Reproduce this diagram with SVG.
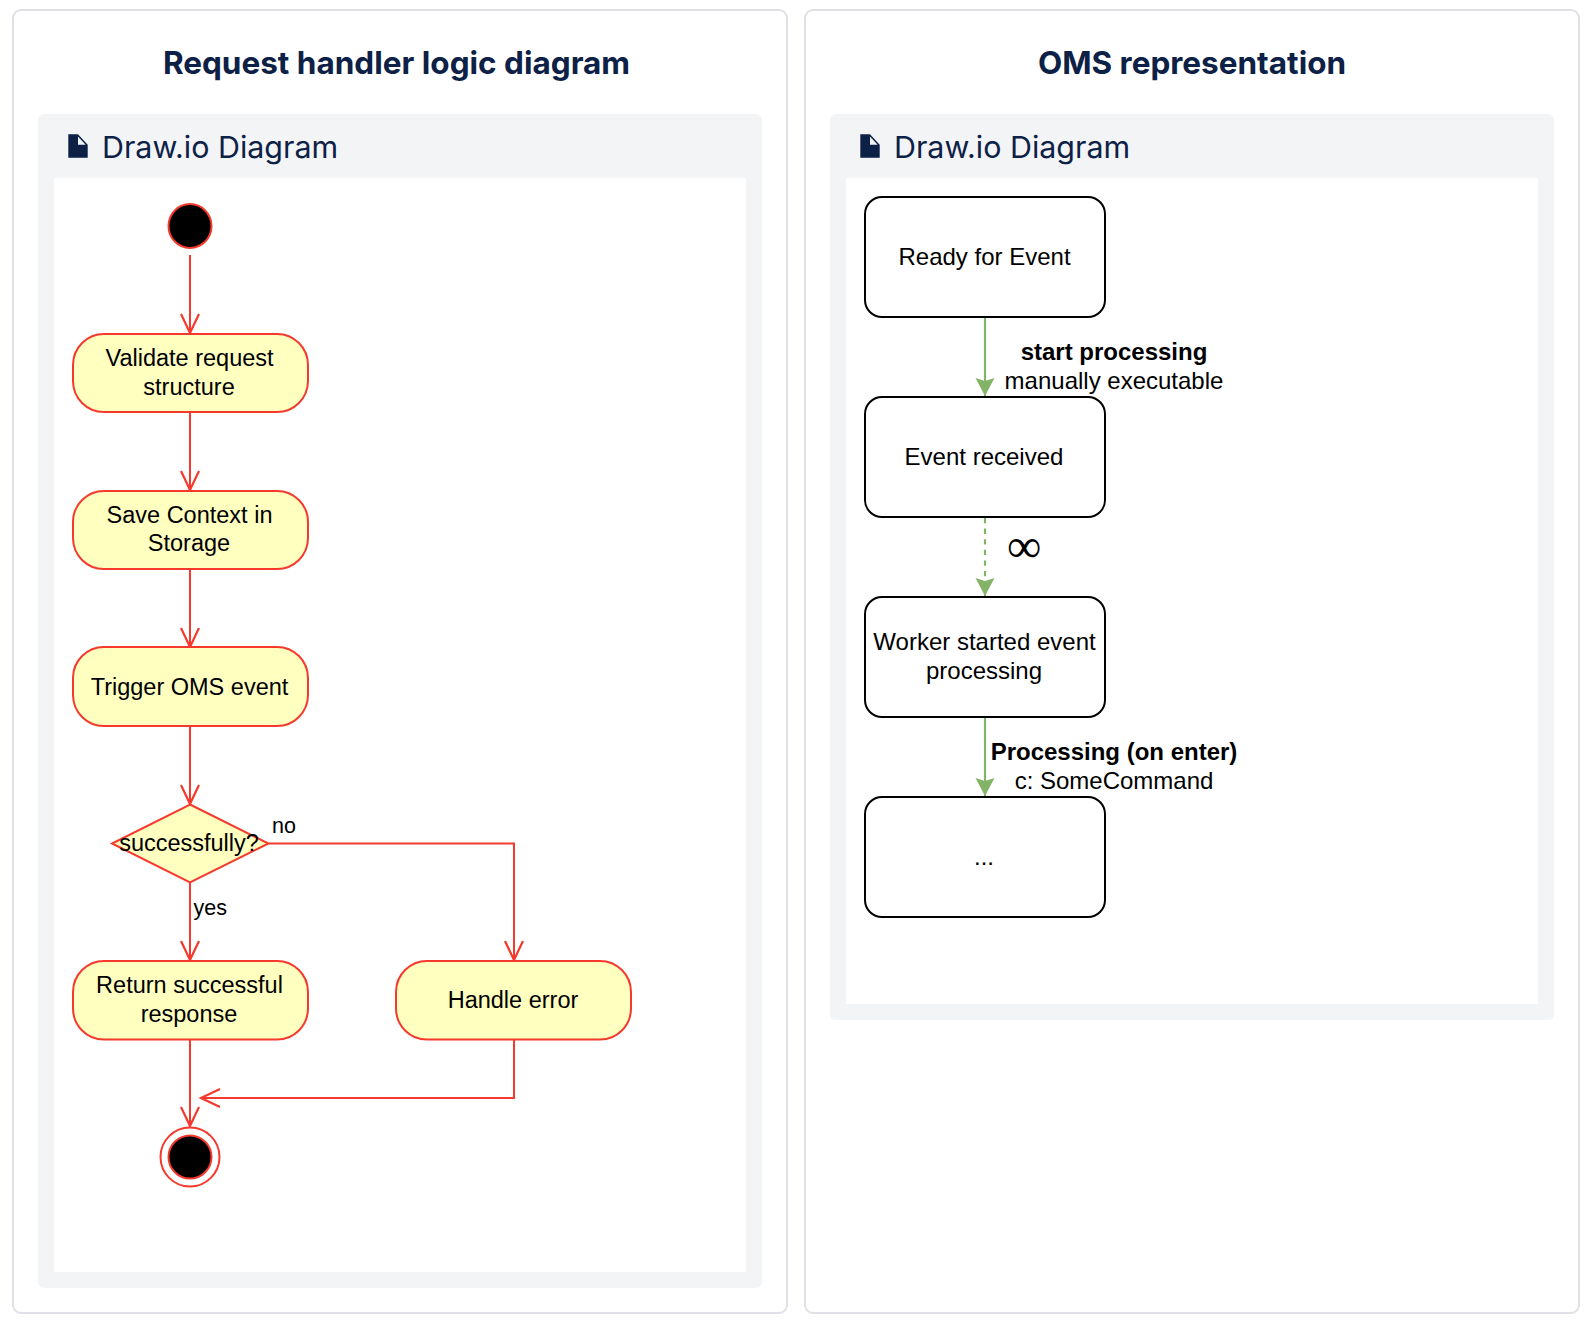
<svg xmlns="http://www.w3.org/2000/svg" width="1592" height="1326" viewBox="0 0 1592 1326">
<style>
.card{fill:#fff;stroke:#e0e1e6;stroke-width:2}
.panel{fill:#f3f4f6}
.inner{fill:#fff}
.title{font-family:Inter,"Liberation Sans",sans-serif;font-size:31.500px;font-weight:700;fill:#0d2146;text-anchor:middle}
.sub{font-family:Inter,"Liberation Sans",sans-serif;font-size:30.400px;fill:#0d2146}
.icon{fill:#0d2146}
.t{font-family:"Liberation Sans",Arial,sans-serif;font-size:23.500px;fill:#000;text-anchor:middle}
.o{font-size:24px}
.l{font-size:21.500px}
.s{text-anchor:start}
.b{font-weight:700}
.act{fill:#ffffc0;stroke:#f5392c;stroke-width:2}
.st{fill:#000;stroke:#f5392c;stroke-width:2}
.box{fill:#fff;stroke:#000;stroke-width:2}
.r{fill:none;stroke:#f5392c;stroke-width:2;marker-end:url(#open)}
.g{fill:none;stroke:#82b366;stroke-width:2.200;marker-end:url(#fill)}
</style>
<defs>
<marker id="open" markerUnits="userSpaceOnUse" markerWidth="24" markerHeight="24" refX="20" refY="10" orient="auto"><path d="M1 1L20 10L1 19" fill="none" stroke="#f5392c" stroke-width="2.200"/></marker>
<marker id="fill" markerUnits="userSpaceOnUse" markerWidth="20" markerHeight="20" refX="18" refY="9.500" orient="auto"><path d="M0 0L18 9.500L0 19L3 9.500Z" fill="#82b366"/></marker>
<path id="doc" d="M0.300 0.300H10L19.700 10.700V23.700H0.300ZM10 2.500V10.700H17.700Z" fill-rule="evenodd"/>
</defs>
<g id="card-left">
<rect class="card" x="13" y="10" width="774" height="1303" rx="8"/>
<text class="title" x="396.500" y="74">Request handler logic diagram</text>
<rect class="panel" x="38" y="114" width="724" height="1174" rx="6"/>
<use href="#doc" class="icon" x="68" y="134"/>
<text class="sub" x="102" y="158">Draw.io Diagram</text>
<rect class="inner" x="54" y="178" width="692" height="1094"/>
</g>
<g id="card-right">
<rect class="card" x="805" y="10" width="774" height="1303" rx="8"/>
<text class="title" x="1192" y="74">OMS representation</text>
<rect class="panel" x="830" y="114" width="724" height="906" rx="6"/>
<use href="#doc" class="icon" x="860" y="134"/>
<text class="sub" x="894" y="158">Draw.io Diagram</text>
<rect class="inner" x="846" y="178" width="692" height="826"/>
</g>
<g id="connectors">
<path class="r" d="M190 255V333"/>
<path class="r" d="M190 412V490"/>
<path class="r" d="M190 569V647"/>
<path class="r" d="M190 726V804"/>
<path class="r" d="M190 882V960"/>
<path class="r" d="M269 843.500H514V960"/>
<path class="r" d="M190 1040V1126"/>
<path class="r" d="M514 1040V1098H201"/>
<path class="g" d="M985 317V396"/>
<path class="g" stroke-dasharray="5.300 5.300" d="M985 518V596"/>
<path class="g" d="M985 717V796"/>
</g>
<g id="start"><ellipse class="st" cx="190" cy="226" rx="21.500" ry="22"/></g>
<g id="validate"><rect class="act" x="73" y="334" width="235" height="78" rx="31"/><text class="t" x="189.500" y="366">Validate request</text><text class="t" x="189" y="395">structure</text></g>
<g id="save"><rect class="act" x="73" y="491" width="235" height="78" rx="31"/><text class="t" x="189.500" y="523">Save Context in</text><text class="t" x="189" y="551">Storage</text></g>
<g id="trigger"><rect class="act" x="73" y="647" width="235" height="79" rx="31"/><text class="t" x="189.500" y="695">Trigger OMS event</text></g>
<g id="decision"><path class="act" d="M190 804.500L268.500 843.500L190 882.500L112 843.500Z"/><text class="t" x="189" y="851">successfully?</text></g>
<g id="return"><rect class="act" x="73" y="961" width="235" height="78.500" rx="31"/><text class="t" x="189.500" y="993">Return successful</text><text class="t" x="189" y="1022">response</text></g>
<g id="handle"><rect class="act" x="396" y="961" width="235" height="78.500" rx="31"/><text class="t" x="513" y="1008">Handle error</text></g>
<g id="end"><ellipse cx="190" cy="1157" rx="29.500" ry="29.500" fill="#fff" stroke="#f5392c" stroke-width="2"/><ellipse class="st" cx="190" cy="1157" rx="21.500" ry="21.500"/></g>
<g id="label-no"><text class="t s l" x="272" y="833">no</text></g>
<g id="label-yes"><text class="t s l" x="193.500" y="915">yes</text></g>
<g id="ready"><rect class="box" x="865" y="197" width="240" height="120" rx="17"/><text class="t o" x="984.500" y="265">Ready for Event</text></g>
<g id="received"><rect class="box" x="865" y="397" width="240" height="120" rx="17"/><text class="t o" x="984" y="465">Event received</text></g>
<g id="worker"><rect class="box" x="865" y="597" width="240" height="120" rx="17"/><text class="t o" x="984.500" y="650">Worker started event</text><text class="t o" x="984" y="679">processing</text></g>
<g id="more"><rect class="box" x="865" y="797" width="240" height="120" rx="17"/><text class="t o" x="984" y="865">...</text></g>
<g id="label-start"><text class="t o b" x="1114" y="360">start processing</text><text class="t o" x="1114" y="389">manually executable</text></g>
<g id="label-inf"><text class="t" x="1024" y="562" style="font-size:48px;font-family:'Liberation Serif',serif">∞</text></g>
<g id="label-proc"><text class="t o b" x="1114" y="760">Processing (on enter)</text><text class="t o" x="1114" y="789">c: SomeCommand</text></g>
</svg>
